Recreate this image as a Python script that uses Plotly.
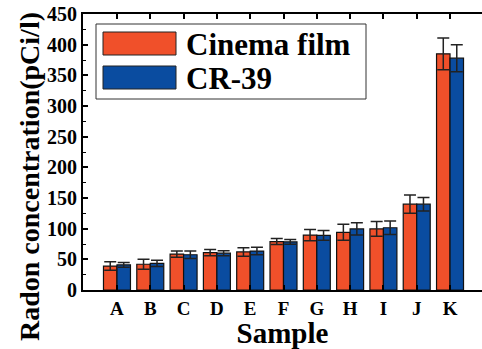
import plotly.graph_objects as go

samples = ["A", "B", "C", "D", "E", "F", "G", "H", "I", "J", "K"]
cinema = [39, 42, 58.5, 61, 62, 79, 89.5, 94, 99.5, 140, 385]
cinema_err = [7, 8, 5, 5, 7, 5, 9, 13, 12, 15, 26]
cr39 = [41, 43.5, 57.5, 60, 63.5, 78.5, 89, 99.5, 101.5, 140, 378]
cr39_err = [4, 5, 6, 4, 6, 4, 8, 10, 11, 11, 22]
series_names = ["Cinema film", "CR-39"]
colors = ["#F0502A", "#0A4CA0"]
y_ticks = [0, 50, 100, 150, 200, 250, 300, 350, 400, 450]
x_title = "Sample"
y_title = "Radon concentration(pCi/l)"

W, H = 482, 349
L, R, T, B = 83, 0, 14, 59
PL, PR, PT, PB = L, W - R, T, H - B

def px(x):
    return (x - PL) / (PR - PL)

def py(y):
    return (PB - y) / (PB - PT)

FONT = "Liberation Serif"

fig = go.Figure()
for name, vals, errs, col in [(series_names[0], cinema, cinema_err, colors[0]),
                              (series_names[1], cr39, cr39_err, colors[1])]:
    fig.add_trace(go.Bar(
        x=samples, y=vals, name=name,
        marker=dict(color=col, line=dict(color="#111", width=1.2)),
        error_y=dict(type="data", array=errs, visible=True,
                     color="#222", thickness=1.5, width=6),
        showlegend=False,
    ))

# manual legend (large swatches)
shapes = [
    dict(type="rect", xref="paper", yref="paper",
         x0=px(96), x1=px(366), y0=py(99), y1=py(24),
         line=dict(color="#333", width=1), fillcolor="white", layer="above"),
]
annos = []
for i, (name, col) in enumerate(zip(series_names, colors)):
    y0 = 32 + i * 34
    shapes.append(dict(type="rect", xref="paper", yref="paper",
                       x0=px(103), x1=px(176), y0=py(y0 + 23), y1=py(y0),
                       line=dict(color="#222", width=1), fillcolor=col, layer="above"))
    annos.append(dict(text="<b>" + name + "</b>", xref="paper", yref="paper",
                      x=px(184), y=py(y0 + 12), xanchor="left", yanchor="middle",
                      showarrow=False, font=dict(family=FONT, size=31, color="black")))

# y axis title placed like the reference (lower than plot centre)
annos.append(dict(text="<b>" + y_title + "</b>", xref="paper", yref="paper",
                  x=px(29), y=py(177), xanchor="center", yanchor="middle", textangle=-90,
                  showarrow=False, font=dict(family=FONT, size=28, color="black")))

fig.update_layout(
    width=W, height=H,
    margin=dict(l=L, r=R, t=T, b=B, autoexpand=False),
    paper_bgcolor="white", plot_bgcolor="white",
    barmode="group", bargap=0.19, bargroupgap=0,
    font=dict(family=FONT, color="black"),
    shapes=shapes, annotations=annos,
    xaxis=dict(
        type="category", range=[-1.02, 10.96], automargin=False,
        showline=True, linecolor="black", linewidth=2, mirror="ticks",
        ticks="inside", ticklen=5, tickwidth=2, tickcolor="black",
        minor=dict(ticks="inside", ticklen=3, tickwidth=1, tickcolor="black", dtick=0.5),
        tickmode="array", tickvals=samples, ticktext=["<b>" + s + "</b>" for s in samples],
        tickfont=dict(family=FONT, size=19, color="black"),
        title=dict(text="<b>" + x_title + "</b>", font=dict(family=FONT, size=29, color="black"), standoff=0),
        showgrid=False, zeroline=False,
    ),
    yaxis=dict(
        range=[0, 450], automargin=False,
        tickmode="array", tickvals=y_ticks, ticktext=["<b>%d</b>" % v for v in y_ticks],
        showline=True, linecolor="black", linewidth=2, mirror=False,
        ticks="inside", ticklen=5, tickwidth=1.5, tickcolor="black",
        minor=dict(ticks="inside", ticklen=3, tickwidth=1, tickcolor="black", dtick=25),
        tickfont=dict(family=FONT, size=20, color="black"),
        showgrid=False, zeroline=False,
    ),
)

fig.write_html("out.html", config={"displayModeBar": False},
               post_script="document.body.style.margin='0';document.body.style.overflow='hidden';")
